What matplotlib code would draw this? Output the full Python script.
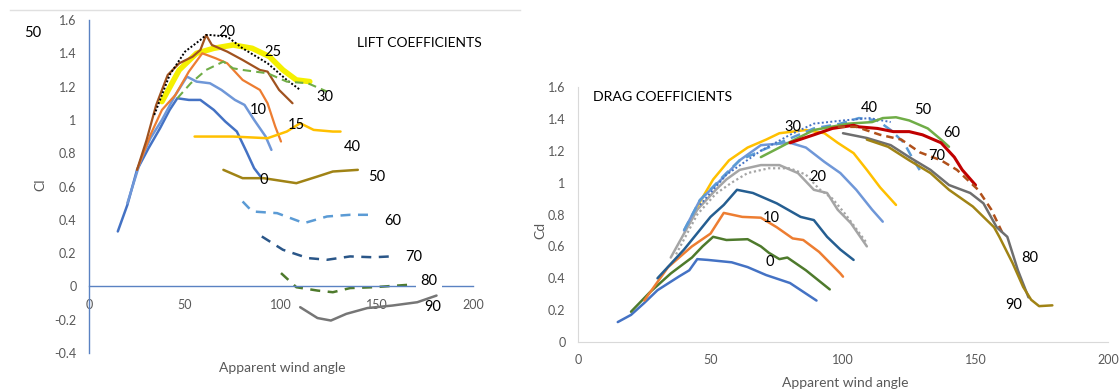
import matplotlib
matplotlib.use("Agg")
import matplotlib.pyplot as plt
from matplotlib.lines import Line2D

plt.rcParams['font.family'] = ['Lato', 'DejaVu Sans']

# ---- lift coefficients (Cl vs apparent wind angle), one curve per heel/trim setting
cl_0_x = [15, 20, 25, 31, 37, 42, 46, 52, 58, 65, 71, 77, 82, 86, 90]
cl_0_y = [0.33, 0.49, 0.70, 0.83, 0.95, 1.06, 1.13, 1.12, 1.12, 1.06, 0.99, 0.93, 0.81, 0.71, 0.65]
cl_5_x = [20, 27, 32, 38, 45, 51, 56, 63, 69, 76, 81, 86, 92, 95]
cl_5_y = [0.50, 0.76, 0.89, 1.00, 1.15, 1.26, 1.23, 1.22, 1.18, 1.12, 1.09, 1.00, 0.90, 0.82]
cl_10_x = [25, 32, 38, 45, 52, 59, 66, 72, 80, 89, 93, 97, 100]
cl_10_y = [0.70, 0.91, 1.06, 1.15, 1.29, 1.40, 1.37, 1.34, 1.24, 1.18, 1.10, 0.96, 0.87]
cl_15_x = [25, 30, 35, 41, 47, 54, 58, 61, 64, 72, 80, 89, 93, 99, 106]
cl_15_y = [0.70, 0.88, 1.09, 1.27, 1.34, 1.38, 1.42, 1.51, 1.45, 1.41, 1.36, 1.30, 1.29, 1.18, 1.10]
cl_20_x = [34, 42, 50, 58, 61, 63, 72, 80, 93, 103, 110]
cl_20_y = [1.03, 1.27, 1.41, 1.48, 1.51, 1.51, 1.50, 1.43, 1.34, 1.24, 1.18]
cl_25_x = [38, 47, 56, 65, 75, 85, 94, 101, 108, 115]
cl_25_y = [1.11, 1.30, 1.40, 1.43, 1.45, 1.43, 1.38, 1.30, 1.24, 1.23]
cl_30_x = [46, 53, 61, 70, 75, 80, 93, 103, 114, 124]
cl_30_y = [1.13, 1.22, 1.30, 1.35, 1.31, 1.30, 1.28, 1.23, 1.22, 1.17]
cl_40_x = [55, 75, 93, 103, 110, 117, 127, 131]
cl_40_y = [0.90, 0.90, 0.89, 0.93, 0.98, 0.94, 0.93, 0.93]
cl_50_x = [70, 80, 91, 108, 119, 127, 140]
cl_50_y = [0.70, 0.65, 0.65, 0.62, 0.66, 0.69, 0.70]
cl_60_x = [80, 85, 98, 112, 124, 136, 148]
cl_60_y = [0.51, 0.45, 0.44, 0.38, 0.42, 0.43, 0.43]
cl_70_x = [90, 101, 114, 124, 136, 148, 157]
cl_70_y = [0.30, 0.22, 0.17, 0.16, 0.18, 0.175, 0.18]
cl_80_x = [100, 108, 119, 127, 136, 148, 167]
cl_80_y = [0.08, -0.005, -0.025, -0.035, -0.01, -0.005, 0.01]
cl_90_x = [110, 119, 126, 134, 145, 158, 171, 181]
cl_90_y = [-0.125, -0.19, -0.205, -0.165, -0.13, -0.115, -0.095, -0.055]

cl_label_text = ["20", "25", "10", "15", "30", "40", "50", "60", "70", "80", "90", "0"]
cl_label_x = [72, 96, 88, 108, 123, 137, 150, 158, 169, 177, 179, 91]
cl_label_y = [1.53, 1.41, 1.06, 0.97, 1.14, 0.84, 0.66, 0.39, 0.175, 0.035, -0.125, 0.64]

# ---- drag coefficients (Cd vs apparent wind angle)
cd_0_x = [15, 20, 25, 30, 38, 42, 45, 49, 58, 64, 71, 80, 90]
cd_0_y = [0.125, 0.17, 0.245, 0.325, 0.41, 0.45, 0.52, 0.515, 0.50, 0.47, 0.42, 0.37, 0.26]
cd_0b_x = [20, 27, 35, 43, 47, 51, 56, 64, 69, 72, 76, 79, 86, 95]
cd_0b_y = [0.19, 0.31, 0.43, 0.53, 0.60, 0.66, 0.64, 0.645, 0.60, 0.56, 0.52, 0.53, 0.45, 0.33]
cd_10_x = [25, 34, 43, 50, 55, 62, 69, 75, 81, 85, 91, 99, 100]
cd_10_y = [0.26, 0.47, 0.60, 0.68, 0.81, 0.785, 0.78, 0.72, 0.65, 0.64, 0.565, 0.43, 0.41]
cd_15_x = [30, 40, 50, 55, 60, 66, 75, 84, 89, 94, 99, 104]
cd_15_y = [0.40, 0.58, 0.785, 0.86, 0.955, 0.935, 0.87, 0.785, 0.765, 0.66, 0.58, 0.515]
cd_20_x = [35, 45, 52, 56, 61, 69, 76, 83, 89, 94, 98, 103, 109]
cd_20_y = [0.53, 0.83, 0.955, 1.02, 1.08, 1.11, 1.11, 1.06, 0.955, 0.935, 0.83, 0.745, 0.60]
cd_20b_x = [37, 45, 52, 58, 64, 72, 80, 86, 91, 96, 101, 109]
cd_20b_y = [0.55, 0.80, 0.93, 1.00, 1.06, 1.09, 1.09, 1.05, 0.96, 0.90, 0.80, 0.62]
cd_25_x = [40, 46, 55, 61, 69, 80, 86, 93, 99, 105, 111, 115]
cd_25_y = [0.70, 0.89, 1.035, 1.14, 1.235, 1.25, 1.22, 1.13, 1.06, 0.955, 0.83, 0.755]
cd_30_x = [45, 51, 57, 64, 71, 76, 86, 93, 98, 104, 109, 114, 120]
cd_30_y = [0.85, 1.02, 1.14, 1.22, 1.27, 1.31, 1.33, 1.31, 1.25, 1.185, 1.08, 0.97, 0.86]
cd_40_x = [40, 46, 56, 61, 69, 79, 89, 99, 106, 113, 118, 123, 126, 130]
cd_40_y = [0.70, 0.89, 1.06, 1.14, 1.20, 1.27, 1.34, 1.37, 1.405, 1.39, 1.33, 1.25, 1.16, 1.05]
cd_40b_x = [46, 56, 69, 80, 89, 100, 110, 118]
cd_40b_y = [0.86, 1.05, 1.20, 1.30, 1.37, 1.39, 1.405, 1.38]
cd_50_x = [69, 76, 80, 89, 102, 111, 115, 120, 125, 132, 137, 140]
cd_50_y = [1.16, 1.22, 1.255, 1.33, 1.37, 1.38, 1.405, 1.41, 1.39, 1.34, 1.27, 1.225]
cd_60_x = [80, 89, 96, 104, 106, 113, 119, 125, 130, 137, 142, 145, 150]
cd_60_y = [1.25, 1.30, 1.34, 1.36, 1.35, 1.34, 1.32, 1.32, 1.30, 1.25, 1.16, 1.08, 0.985]
cd_70_x = [98, 105, 114, 122, 129, 137, 143, 151, 156, 160]
cd_70_y = [1.35, 1.35, 1.30, 1.27, 1.19, 1.14, 1.08, 0.955, 0.83, 0.69]
cd_80_x = [100, 109, 118, 125, 133, 140, 148, 153, 158, 162, 166, 170]
cd_80_y = [1.31, 1.28, 1.235, 1.16, 1.08, 0.985, 0.935, 0.87, 0.72, 0.66, 0.45, 0.28]
cd_90_x = [109, 117, 125, 133, 140, 149, 157, 159, 164, 168, 171, 174, 179]
cd_90_y = [1.27, 1.225, 1.14, 1.06, 0.955, 0.85, 0.72, 0.66, 0.495, 0.345, 0.265, 0.225, 0.23]

cd_label_text = ["0", "10", "20", "30", "40", "50", "60", "70", "80", "90"]
cd_label_x = [72.5, 73, 90.5, 81, 110, 130, 141, 135.5, 170.5, 164.5]
cd_label_y = [0.50, 0.78, 1.035, 1.35, 1.47, 1.455, 1.31, 1.17, 0.53, 0.23]

tick_col = "#595959"
lbl_size = 10.5

fig = plt.figure(figsize=(11.19, 3.90), dpi=100)

# ================= LIFT =================
ax1 = fig.add_axes([89 / 1119, 1 - 353 / 390, 384 / 1119, 333 / 390])
ax1.set_xlim(0, 200)
ax1.set_ylim(-0.4, 1.6)

kw = dict(solid_capstyle="round", solid_joinstyle="round")
ax1.plot(cl_0_x, cl_0_y, color="#4472c4", lw=1.8, **kw)
ax1.plot(cl_5_x, cl_5_y, color="#6f97d8", lw=1.8, **kw)
ax1.plot(cl_25_x, cl_25_y, color="#f5f000", lw=4.0, **kw)
ax1.plot(cl_10_x, cl_10_y, color="#ed7d31", lw=1.6, **kw)
ax1.plot(cl_15_x, cl_15_y, color="#a0521f", lw=1.6, **kw)
ax1.plot(cl_20_x, cl_20_y, color="black", lw=1.4, ls=(0, (1, 1)))
ax1.plot(cl_30_x, cl_30_y, color="#70ad47", lw=1.5, ls=(0, (4, 2.5)))
ax1.plot(cl_40_x, cl_40_y, color="#ffc000", lw=1.8, **kw)
ax1.plot(cl_50_x, cl_50_y, color="#a08315", lw=1.8, **kw)
ax1.plot(cl_60_x, cl_60_y, color="#5b9bd5", lw=1.8, ls=(0, (4, 3)))
ax1.plot(cl_70_x, cl_70_y, color="#2a5688", lw=1.8, ls=(0, (4, 3)))
ax1.plot(cl_80_x, cl_80_y, color="#4e7a2c", lw=1.8, ls=(0, (4, 3)))
ax1.plot(cl_90_x, cl_90_y, color="#767676", lw=1.8, **kw)

for t, x, y in zip(cl_label_text, cl_label_x, cl_label_y):
    bb = dict(facecolor="white", edgecolor="none", pad=3) if t == "80" else None
    ax1.text(x, y, t, fontsize=lbl_size, ha="center", va="center", color="black", bbox=bb)

for s in ["top", "right"]:
    ax1.spines[s].set_visible(False)
ax1.spines["bottom"].set_position(("data", 0))
ax1.spines["left"].set_color("#5a82c2")
ax1.spines["bottom"].set_color("#5a82c2")
ax1.spines["left"].set_linewidth(1.0)
ax1.spines["bottom"].set_linewidth(1.0)
ax1.set_xticks([0, 50, 100, 150, 200])
ax1.set_yticks([-0.4, -0.2, 0, 0.2, 0.4, 0.6, 0.8, 1.0, 1.2, 1.4, 1.6])
ax1.set_yticklabels(["-0.4", "-0.2", "0", "0.2", "0.4", "0.6", "0.8", "1", "1.2", "1.4", "1.6"])
ax1.tick_params(axis="both", length=0, labelsize=9, labelcolor=tick_col)
ax1.tick_params(axis="x", pad=9)
ax1.tick_params(axis="y", pad=9)

fig.text(357 / 1119, 1 - 43 / 390, "LIFT COEFFICIENTS", fontsize=10, va="center", ha="left")
fig.text(40 / 1119, 1 - 185 / 390, "Cl", fontsize=10, rotation=90, va="center", ha="center", color=tick_col)
fig.text(282 / 1119, 1 - 368 / 390, "Apparent wind angle", fontsize=10, va="center", ha="center", color=tick_col)
fig.text(33 / 1119, 1 - 33 / 390, "50", fontsize=lbl_size, va="center", ha="center")
fig.add_artist(Line2D([10 / 1119, 520 / 1119], [1 - 10 / 390, 1 - 10 / 390],
                      color="#e0e0e0", lw=1.0))

# ================= DRAG =================
ax2 = fig.add_axes([578 / 1119, 1 - 342 / 390, 530 / 1119, 255 / 390])
ax2.set_xlim(0, 200)
ax2.set_ylim(0, 1.6)

ax2.plot(cd_0_x, cd_0_y, color="#4472c4", lw=1.8, **kw)
ax2.plot(cd_0b_x, cd_0b_y, color="#4e7a2c", lw=1.8, **kw)
ax2.plot(cd_10_x, cd_10_y, color="#ed7d31", lw=1.8, **kw)
ax2.plot(cd_15_x, cd_15_y, color="#255e91", lw=1.8, **kw)
ax2.plot(cd_20_x, cd_20_y, color="#a5a5a5", lw=1.8, **kw)
ax2.plot(cd_20b_x, cd_20b_y, color="#a5a5a5", lw=1.6, ls=(0, (1, 1.2)))
ax2.plot(cd_30_x, cd_30_y, color="#ffc000", lw=1.8, **kw)
ax2.plot(cd_25_x, cd_25_y, color="#6f97d8", lw=1.8, **kw)
ax2.plot(cd_40_x, cd_40_y, color="#5b9bd5", lw=1.8, ls=(0, (4, 2.5)))
ax2.plot(cd_40b_x, cd_40b_y, color="#4472c4", lw=1.4, ls=(0, (1, 1.2)))
ax2.plot(cd_50_x, cd_50_y, color="#70ad47", lw=1.8, **kw)
ax2.plot(cd_60_x, cd_60_y, color="#c00000", lw=2.2, **kw)
ax2.plot(cd_70_x, cd_70_y, color="#b0501a", lw=1.8, ls=(0, (3, 2)))
ax2.plot(cd_80_x, cd_80_y, color="#6e6e6e", lw=1.8, **kw)
ax2.plot(cd_90_x, cd_90_y, color="#a08315", lw=1.8, **kw)

for t, x, y in zip(cd_label_text, cd_label_x, cd_label_y):
    ax2.text(x, y, t, fontsize=lbl_size, ha="center", va="center", color="black")

for s in ["top", "right"]:
    ax2.spines[s].set_visible(False)
ax2.spines["left"].set_color("#d9d9d9")
ax2.spines["bottom"].set_color("#d9d9d9")
ax2.set_xticks([0, 50, 100, 150, 200])
ax2.set_yticks([0, 0.2, 0.4, 0.6, 0.8, 1.0, 1.2, 1.4, 1.6])
ax2.set_yticklabels(["0", "0.2", "0.4", "0.6", "0.8", "1", "1.2", "1.4", "1.6"])
ax2.tick_params(axis="both", length=0, labelsize=9, labelcolor=tick_col)
ax2.tick_params(axis="x", pad=9)
ax2.tick_params(axis="y", pad=9)

fig.text(593 / 1119, 1 - 97 / 390, "DRAG COEFFICIENTS", fontsize=10.2, va="center", ha="left")
fig.text(540 / 1119, 1 - 230 / 390, "Cd", fontsize=10, rotation=90, va="center", ha="center", color=tick_col)
fig.text(845 / 1119, 1 - 383 / 390, "Apparent wind angle", fontsize=10, va="center", ha="center", color=tick_col)

fig.savefig("out.png", dpi=100)
